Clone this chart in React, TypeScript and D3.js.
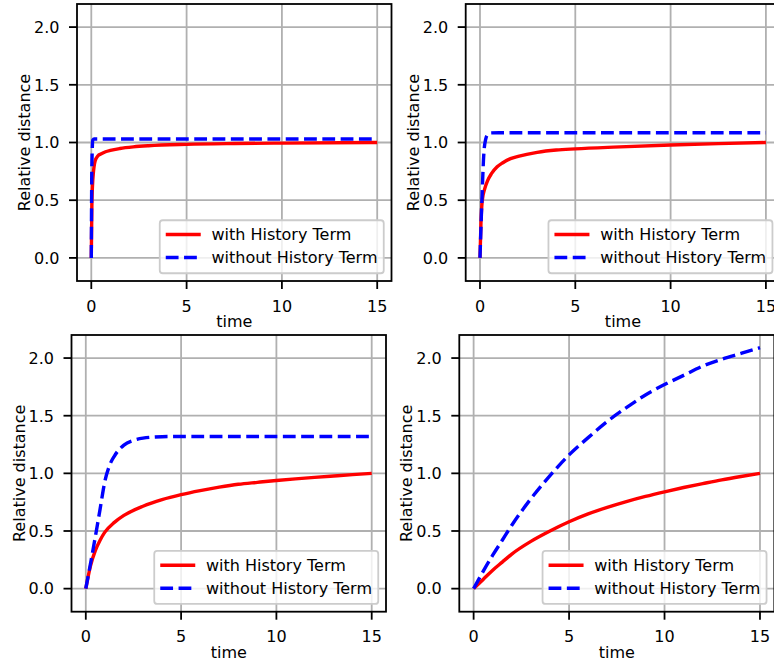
import React from 'react';
import * as d3 from 'd3';

// ---------- data ----------
const xTicks = [0, 5, 10, 15];
const xTickLabels = ['0', '5', '10', '15'];
const yTicks = [0, 0.5, 1.0, 1.5, 2.0];
const yTickLabels = ['0.0', '0.5', '1.0', '1.5', '2.0'];
const legendLabels = ['with History Term', 'without History Term'];
const xLabel = 'time';
const yLabel = 'Relative distance';

// panel A (top-left)
const tA_with = [0, 0.03, 0.07, 0.1, 0.2, 0.35, 0.5, 0.75, 1, 1.5, 2.2, 3, 5, 7.5, 10, 15];
const yA_with = [0, 0.45, 0.65, 0.72, 0.84, 0.885, 0.9, 0.92, 0.932, 0.948, 0.962, 0.972, 0.984, 0.991, 0.995, 1.0];
const tA_without = [0, 0.03, 0.08, 0.15, 15];
const yA_without = [0, 0.8, 1.02, 1.03, 1.03];

// panel B (top-right)
const tB_with = [0, 0.05, 0.12, 0.25, 0.4, 0.6, 0.9, 1.2, 1.6, 2, 3, 4, 5, 7, 10, 12.5, 15];
const yB_with = [0, 0.3, 0.5, 0.6, 0.67, 0.73, 0.79, 0.825, 0.86, 0.88, 0.915, 0.935, 0.945, 0.96, 0.978, 0.99, 1.0];
const tB_without = [0, 0.1, 0.2, 0.3, 0.4, 0.55, 1, 15];
const yB_without = [0, 0.5, 0.9, 1.03, 1.07, 1.083, 1.085, 1.085];

// panel C (bottom-left)
const tC_with = [0, 0.25, 0.5, 0.75, 1, 1.5, 2, 3, 4, 5, 6, 7, 8, 9, 10, 11, 12, 13, 14, 15];
const yC_with = [0, 0.2, 0.33, 0.42, 0.49, 0.575, 0.635, 0.715, 0.772, 0.815, 0.85, 0.88, 0.905, 0.922, 0.938, 0.952, 0.965, 0.977, 0.989, 1.0];
const tC_without = [0, 0.25, 0.5, 0.75, 1, 1.25, 1.5, 2, 2.5, 3, 4, 5, 15];
const yC_without = [0, 0.22, 0.45, 0.69, 0.93, 1.07, 1.15, 1.245, 1.285, 1.305, 1.318, 1.32, 1.32];

// panel D (bottom-right)
const tD = [0, 0.5, 1, 1.5, 2, 3, 4, 5, 6, 7, 8, 9, 10, 11, 12, 13, 14, 15];
const yD_with = [0, 0.08, 0.16, 0.23, 0.3, 0.41, 0.5, 0.58, 0.648, 0.705, 0.755, 0.8, 0.84, 0.877, 0.911, 0.944, 0.973, 1.0];
const yD_without = [0, 0.15, 0.29, 0.42, 0.55, 0.78, 0.98, 1.16, 1.31, 1.45, 1.57, 1.68, 1.77, 1.85, 1.93, 1.99, 2.04, 2.09];

const zip = (t: number[], y: number[]) => t.map((v, i) => [v, y[i]] as [number, number]);

const panelsData = [
  { withH: zip(tA_with, yA_with), withoutH: zip(tA_without, yA_without) },
  { withH: zip(tB_with, yB_with), withoutH: zip(tB_without, yB_without) },
  { withH: zip(tC_with, yC_with), withoutH: zip(tC_without, yC_without) },
  { withH: zip(tD, yD_with), withoutH: zip(tD, yD_without) },
];

// ---------- layout ----------
const W = 774;
const H = 666;
const FONT = "'DejaVu Sans', sans-serif";
const FS = 16;
const layouts = [
  { x: 77, y: 4, w: 314.5, h: 277 },
  { x: 465.7, y: 4, w: 314.5, h: 277 },
  { x: 71.5, y: 335, w: 314.5, h: 276.7 },
  { x: 459.3, y: 335, w: 315, h: 276.7 },
];

function Panel({ idx }: { idx: number }) {
  const L = layouts[idx];
  const D = panelsData[idx];
  const xs = d3.scaleLinear().domain([-0.75, 15.75]).range([L.x, L.x + L.w]);
  const ys = d3.scaleLinear().domain([-0.2, 2.2]).range([L.y + L.h, L.y]);
  const line = d3
    .line<[number, number]>()
    .x((d) => xs(d[0]))
    .y((d) => ys(d[1]))
    .curve(d3.curveMonotoneX);
  const clipId = `clip${idx}`;
  const lw = 224;
  const lh = 53;
  const lx = L.x + L.w - 7.75 - lw;
  const ly = L.y + L.h - 7.75 - lh;
  const rows = [ly + 14.3, ly + 37.3];
  return (
    <g>
      <defs>
        <clipPath id={clipId}>
          <rect x={L.x} y={L.y} width={L.w} height={L.h} />
        </clipPath>
      </defs>
      <rect x={L.x} y={L.y} width={L.w} height={L.h} fill="#fff" />
      {/* grid */}
      {xTicks.map((t) => (
        <line key={'gx' + t} x1={xs(t)} x2={xs(t)} y1={L.y} y2={L.y + L.h} stroke="#b0b0b0" strokeWidth={1.8} />
      ))}
      {yTicks.map((t) => (
        <line key={'gy' + t} x1={L.x} x2={L.x + L.w} y1={ys(t)} y2={ys(t)} stroke="#b0b0b0" strokeWidth={1.8} />
      ))}
      {/* data */}
      <g clipPath={`url(#${clipId})`}>
        <path d={line(D.withH) || ''} fill="none" stroke="#ff0000" strokeWidth={3.4} strokeLinejoin="round" />
        <path d={line(D.withoutH) || ''} fill="none" stroke="#0000ff" strokeWidth={3.4} strokeDasharray="12.8,5.5" />
      </g>
      {/* legend */}
      <rect x={lx} y={ly} width={lw} height={lh} rx={3} ry={3} fill="#fff" fillOpacity={0.8} stroke="#cccccc" strokeWidth={1.8} />
      <line x1={lx + 6} x2={lx + 41} y1={rows[0]} y2={rows[0]} stroke="#ff0000" strokeWidth={3.4} />
      <line x1={lx + 6} x2={lx + 41} y1={rows[1]} y2={rows[1]} stroke="#0000ff" strokeWidth={3.4} strokeDasharray="12.8,5.5" />
      {legendLabels.map((lab, i) => (
        <text key={lab} x={lx + 51.7} y={rows[i] + 5.8} fontSize={FS} fontFamily={FONT} fill="#000">
          {lab}
        </text>
      ))}
      {/* spines */}
      <rect x={L.x} y={L.y} width={L.w} height={L.h} fill="none" stroke="#000" strokeWidth={1.8} />
      {/* ticks */}
      {xTicks.map((t, i) => (
        <g key={'tx' + t}>
          <line x1={xs(t)} x2={xs(t)} y1={L.y + L.h} y2={L.y + L.h + 8} stroke="#000" strokeWidth={1.8} />
          <text x={xs(t)} y={L.y + L.h + 30.7} textAnchor="middle" fontSize={FS} fontFamily={FONT} fill="#000">
            {xTickLabels[i]}
          </text>
        </g>
      ))}
      {yTicks.map((t, i) => (
        <g key={'ty' + t}>
          <line x1={L.x - 8} x2={L.x} y1={ys(t)} y2={ys(t)} stroke="#000" strokeWidth={1.8} />
          <text x={L.x - 17.5} y={ys(t) + 5.8} textAnchor="end" fontSize={FS} fontFamily={FONT} fill="#000">
            {yTickLabels[i]}
          </text>
        </g>
      ))}
      <text x={L.x + L.w / 2} y={L.y + L.h + 46} textAnchor="middle" fontSize={FS} fontFamily={FONT} fill="#000">
        {xLabel}
      </text>
      <text
        transform={`translate(${L.x - 47},${L.y + L.h / 2}) rotate(-90)`}
        textAnchor="middle"
        fontSize={FS}
        fontFamily={FONT}
        fill="#000"
      >
        {yLabel}
      </text>
    </g>
  );
}

export default function App() {
  return (
    <svg
      width={W}
      height={H}
      viewBox={`0 0 ${W} ${H}`}
      style={{ position: 'absolute', left: 0, top: 0, background: '#fff' }}
    >
      <rect x={0} y={0} width={W} height={H} fill="#fff" />
      {[0, 1, 2, 3].map((i) => (
        <Panel key={i} idx={i} />
      ))}
    </svg>
  );
}
